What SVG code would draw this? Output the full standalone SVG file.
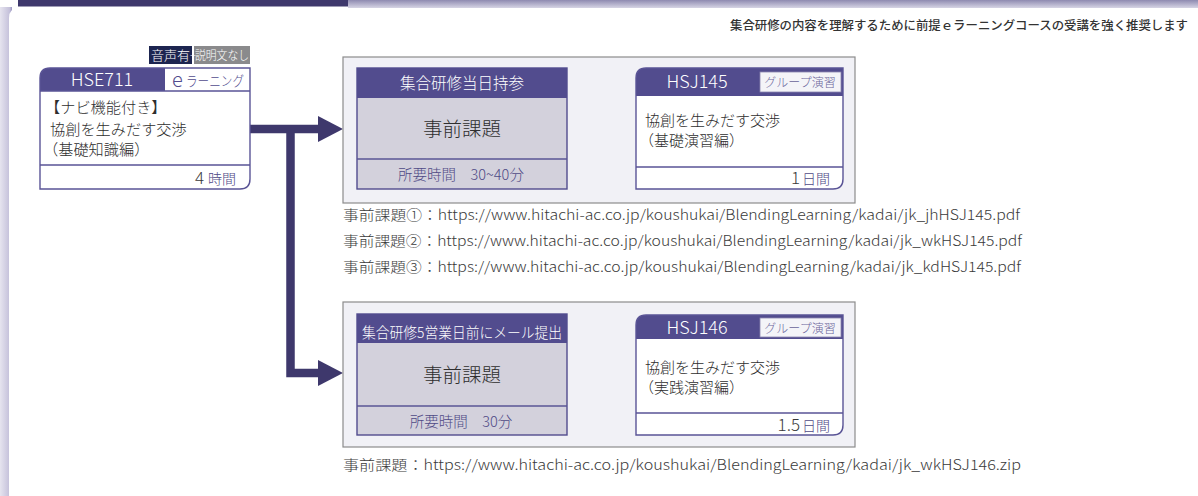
<svg xmlns="http://www.w3.org/2000/svg" width="1198" height="496" viewBox="0 0 1198 496">
  <defs>
    <linearGradient id="topbar" x1="0" y1="0" x2="0" y2="1">
      <stop offset="0" stop-color="#8e8ab0"/>
      <stop offset="1" stop-color="#d6d4e4"/>
    </linearGradient>
    <linearGradient id="leftshade" x1="0" y1="0" x2="1" y2="0">
      <stop offset="0" stop-color="#e6e4ef"/>
      <stop offset="0.8" stop-color="#c4c0da"/>
      <stop offset="1" stop-color="#9a95c0"/>
    </linearGradient>
    <marker id="grayhead" viewBox="0 0 24 26" refX="0" refY="13" markerWidth="24" markerHeight="26" markerUnits="userSpaceOnUse" orient="auto">
      <path d="M0,0 L24,13 L0,26 Z" fill="#8a8a8e"/>
    </marker>
    <style>
      .jp { font-family: "Noto Sans CJK JP", "Noto Sans", sans-serif; font-weight: 300; }
      .hdr { fill: #524c8e; }
      .boxline { fill: none; stroke: #5a5496; stroke-width: 1.4; }
      .panel { fill: #f1f1f6; stroke: #8c8c8c; stroke-width: 1.2; }
      .evbody { fill: #d3d1dc; stroke: #524c8e; stroke-width: 1.4; }
      .body { fill: #2e2e2e; }
      .purple { fill: #4f4a86; }
      .url { font-family: "Noto Sans CJK JP", "Noto Sans", sans-serif; font-weight: 300; font-size: 14px; fill: #3a3a3a; }
      .thick { fill: none; stroke: #3e386c; stroke-width: 8.5; }
      .gray { fill: none; stroke: #8a8a8e; stroke-width: 2; }
    </style>
  </defs>

  <!-- frame -->
  <rect x="0" y="0" width="1198" height="496" fill="#ffffff"/>
  <rect x="0" y="7" width="12" height="489" fill="url(#leftshade)"/>
  <rect x="348" y="0" width="850" height="8" fill="url(#topbar)"/>
  <path d="M9,496 L9,18 Q9,8 19,8 L1198,8 L1198,496 Z" fill="#ffffff"/>
  <rect x="18" y="0" width="330" height="6.5" fill="#3e386c"/>

  <text x="1188" y="29.5" text-anchor="end" font-family="Noto Sans CJK JP, Noto Sans, sans-serif" font-size="12" font-weight="500" fill="#333333" textLength="458" lengthAdjust="spacingAndGlyphs">集合研修の内容を理解するために前提ｅラーニングコースの受講を強く推奨します</text>

  <!-- connectors -->
  <g id="connectors">
    <path class="thick" d="M250,129 L320,129"/>
    <path d="M318,116 L343,129 L318,142 Z" fill="#3e386c"/>
    <path class="thick" d="M290.5,129 L290.5,373 L320,373"/>
    <path d="M318,360 L343,373 L318,386 Z" fill="#3e386c"/>
    <path class="gray" d="M567,129 L612,129" marker-end="url(#grayhead)"/>
    <path class="gray" d="M567,375 L612,375" marker-end="url(#grayhead)"/>
  </g>

  <!-- HSE711 -->
  <g id="hse711">
    <rect x="149" y="46" width="43" height="18" fill="#1d2550"/>
    <text class="jp" x="170.5" y="59.5" text-anchor="middle" font-size="13" fill="#ffffff">音声有</text>
    <rect x="194" y="46" width="56" height="18" fill="#8a8a8c"/>
    <text class="jp" x="193" y="59.5" text-anchor="middle" font-size="11" fill="#ffffff">+</text>
    <text class="jp" x="222" y="59.5" text-anchor="middle" font-size="12.5" fill="#ffffff" textLength="54" lengthAdjust="spacingAndGlyphs">説明文なし</text>
    <path d="M40,189 L40,78 Q40,68 50,68 L250,68 L250,179 Q250,189 240,189 Z" fill="#ffffff"/>
    <path class="hdr" d="M40,91 L40,78 Q40,68 50,68 L165,68 L165,91 Z"/>
    <path class="boxline" d="M40,189 L40,78 Q40,68 50,68 L250,68 L250,179 Q250,189 240,189 Z M40,91 L250,91 M40,165 L250,165"/>
    <text class="jp" x="102" y="86" text-anchor="middle" font-size="18" fill="#ffffff">HSE711</text>
    <text class="jp" x="172" y="87" font-size="20" fill="#524c8e">e</text>
    <text class="jp" x="186" y="86" font-size="13.5" fill="#524c8e" textLength="58" lengthAdjust="spacingAndGlyphs">ラーニング</text>
    <text class="jp body" x="45" y="113" font-size="15.2">【ナビ機能付き】</text>
    <text class="jp body" x="50" y="135" font-size="15.2">協創を生みだす交渉</text>
    <text class="jp body" x="43" y="155" font-size="15.2">（基礎知識編）</text>
    <text class="jp" x="204" y="184" text-anchor="end" font-size="17" fill="#3a3a3a">4</text>
    <text class="jp purple" x="236" y="184" text-anchor="end" font-size="14">時間</text>
  </g>

  <!-- upper panel -->
  <g id="panel1">
    <rect class="panel" x="343" y="57" width="512" height="146"/>
  </g>
  <g id="task1">
    <rect class="evbody" x="357" y="68" width="210" height="121"/>
    <rect class="hdr" x="357" y="68" width="210" height="30"/>
    <path class="boxline" d="M357,159 L567,159"/>
    <text class="jp" x="462" y="89" text-anchor="middle" font-size="15.5" fill="#ffffff">集合研修当日持参</text>
    <text class="jp body" x="462" y="136" text-anchor="middle" font-size="19.5">事前課題</text>
    <text class="jp purple" x="461" y="180" text-anchor="middle" font-size="14.5" xml:space="preserve">所要時間　30~40分</text>
  </g>
  <g id="hsj145">
    <path d="M636,189 L636,78 Q636,68 646,68 L843,68 L843,179 Q843,189 833,189 Z" fill="#ffffff"/>
    <path class="hdr" d="M636,96 L636,78 Q636,68 646,68 L843,68 L843,96 Z"/>
    <rect x="760" y="72" width="81" height="20" fill="#f4f4f8" stroke="#8a86b0" stroke-width="0.8"/>
    <path class="boxline" d="M636,189 L636,78 Q636,68 646,68 L843,68 L843,179 Q843,189 833,189 Z M636,167 L843,167"/>
    <text class="jp" x="697" y="88" text-anchor="middle" font-size="18" fill="#ffffff">HSJ145</text>
    <text class="jp" x="800" y="87" text-anchor="middle" font-size="12" fill="#6a659a">グループ演習</text>
    <text class="jp body" x="645" y="125.5" font-size="15">協創を生みだす交渉</text>
    <text class="jp body" x="639" y="145.5" font-size="15">（基礎演習編）</text>
    <text class="jp" x="800" y="184" text-anchor="end" font-size="17" fill="#3a3a3a">1</text>
    <text class="jp purple" x="830" y="184" text-anchor="end" font-size="14">日間</text>
  </g>
  <g id="urls1">
    <text class="url" x="343" y="220" textLength="677" lengthAdjust="spacingAndGlyphs">事前課題①：https://www.hitachi-ac.co.jp/koushukai/BlendingLearning/kadai/jk_jhHSJ145.pdf</text>
    <text class="url" x="343" y="246" textLength="679" lengthAdjust="spacingAndGlyphs">事前課題②：https://www.hitachi-ac.co.jp/koushukai/BlendingLearning/kadai/jk_wkHSJ145.pdf</text>
    <text class="url" x="343" y="272" textLength="678" lengthAdjust="spacingAndGlyphs">事前課題③：https://www.hitachi-ac.co.jp/koushukai/BlendingLearning/kadai/jk_kdHSJ145.pdf</text>
  </g>

  <!-- lower panel -->
  <g id="panel2">
    <rect class="panel" x="343" y="302" width="512" height="145"/>
  </g>
  <g id="task2">
    <rect class="evbody" x="357" y="314" width="210" height="121"/>
    <rect class="hdr" x="357" y="314" width="210" height="29"/>
    <path class="boxline" d="M357,406 L567,406"/>
    <text class="jp" x="462" y="337.5" text-anchor="middle" font-size="14.5" fill="#ffffff" textLength="200" lengthAdjust="spacingAndGlyphs">集合研修5営業日前にメール提出</text>
    <text class="jp body" x="462" y="382" text-anchor="middle" font-size="19.5">事前課題</text>
    <text class="jp purple" x="461" y="427" text-anchor="middle" font-size="14.5" xml:space="preserve">所要時間　30分</text>
  </g>
  <g id="hsj146">
    <path d="M636,435 L636,325 Q636,315 646,315 L843,315 L843,425 Q843,435 833,435 Z" fill="#ffffff"/>
    <path class="hdr" d="M636,339 L636,325 Q636,315 646,315 L843,315 L843,339 Z"/>
    <rect x="760" y="318" width="81" height="19" fill="#f4f4f8" stroke="#8a86b0" stroke-width="0.8"/>
    <path class="boxline" d="M636,435 L636,325 Q636,315 646,315 L843,315 L843,425 Q843,435 833,435 Z M636,413 L843,413"/>
    <text class="jp" x="697" y="334" text-anchor="middle" font-size="18" fill="#ffffff">HSJ146</text>
    <text class="jp" x="800" y="332.5" text-anchor="middle" font-size="12" fill="#6a659a">グループ演習</text>
    <text class="jp body" x="645" y="372.5" font-size="15">協創を生みだす交渉</text>
    <text class="jp body" x="639" y="392.5" font-size="15">（実践演習編）</text>
    <text class="jp" x="800" y="431" text-anchor="end" font-size="17" fill="#3a3a3a">1.5</text>
    <text class="jp purple" x="830" y="431" text-anchor="end" font-size="14">日間</text>
  </g>
  <g id="urls2">
    <text class="url" x="343" y="470" textLength="678" lengthAdjust="spacingAndGlyphs">事前課題：https://www.hitachi-ac.co.jp/koushukai/BlendingLearning/kadai/jk_wkHSJ146.zip</text>
  </g>
</svg>
